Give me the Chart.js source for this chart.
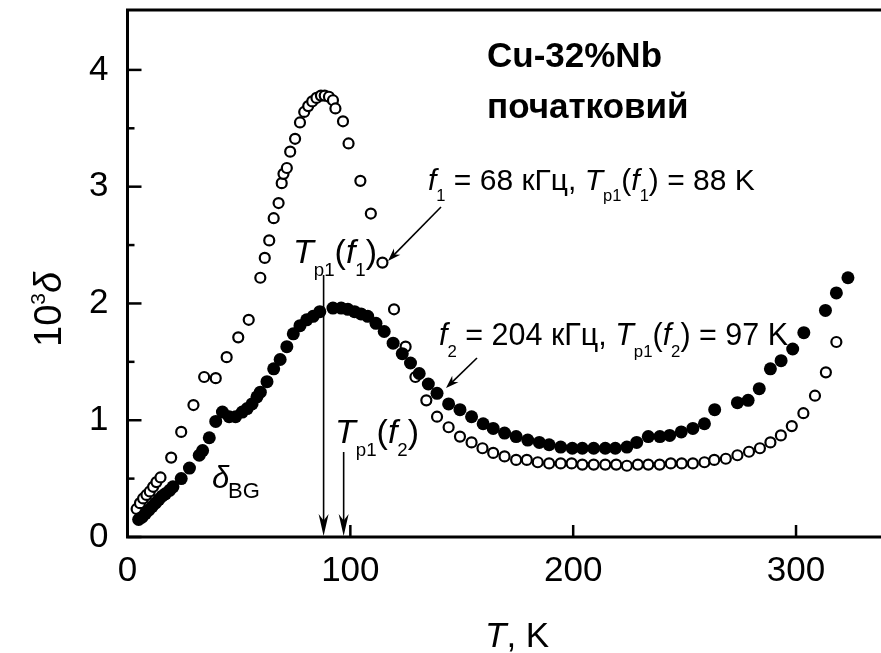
<!DOCTYPE html>
<html>
<head>
<meta charset="utf-8">
<script src="https://cdn.jsdelivr.net/npm/chart.js@4.4.1/dist/chart.umd.min.js"></script>
<style>
  html, body { margin: 0; padding: 0; background: #fff; }
  #wrap { width: 881px; height: 653px; }
</style>
</head>
<body>
<div id="wrap"><canvas id="chart" width="881" height="653"></canvas></div>
<script>
// f1 = 68 kHz (open circles)
const tempF1 = [4.1, 5.6, 7.0, 8.5, 10, 11.5, 13, 14.8, 19.6, 24.1, 29.6, 34.4, 39.6, 44.5, 49.7, 54.4, 59.6, 61.6, 63.6, 65.6,
  67.8, 69.2, 70.0, 71.5, 73, 75.2, 77.4, 79.3, 81.1, 82.9, 84.8, 86.8, 88.5, 90.4, 92.2, 93.3, 96.7, 99.2, 104.5, 109.2,
  114.4, 119.6, 124.8, 129.2, 134.1, 138.9, 144.1, 149.2, 154.4, 159.3, 164.1, 169.2, 174.4, 179.2, 184.1, 189.2, 194.4, 199.3, 204.1, 209.2,
  214.4, 219.3, 224.1, 229, 233.7, 238.8, 243.8, 248.7, 253.7, 258.9, 263.3, 268.5, 273.7, 278.9, 283.8, 288.5, 293.2, 298.1, 303.3, 308.5,
  313.4, 318.1];
const deltaF1 = [0.24, 0.29, 0.33, 0.36, 0.39, 0.43, 0.47, 0.51, 0.68, 0.90, 1.13, 1.37, 1.36, 1.54, 1.71, 1.86, 2.22, 2.39, 2.54, 2.73,
  2.86, 3.03, 3.11, 3.16, 3.30, 3.41, 3.55, 3.64, 3.69, 3.73, 3.76, 3.78, 3.78, 3.77, 3.74, 3.67, 3.56, 3.37, 3.05, 2.77,
  2.35, 1.95, 1.63, 1.37, 1.17, 1.03, 0.94, 0.86, 0.81, 0.76, 0.72, 0.69, 0.66, 0.66, 0.64, 0.63, 0.63, 0.63, 0.62, 0.62,
  0.62, 0.62, 0.61, 0.62, 0.62, 0.62, 0.63, 0.63, 0.63, 0.64, 0.66, 0.67, 0.70, 0.73, 0.76, 0.81, 0.87, 0.95, 1.06, 1.21,
  1.41, 1.67];

// f2 = 204 kHz (filled circles)
const tempF2 = [5, 6.5, 8, 9.5, 11, 12.5, 14, 15.5, 17, 18.9, 20.4, 24.1, 27.8, 32.2, 33.7, 36.7, 39.6, 42.6, 45.6, 48.5,
  51.5, 53.7, 55.9, 58.1, 59.6, 62.6, 65.6, 68.5, 71.5, 74.4, 77.4, 80.4, 83.3, 86.3, 92.2, 95.9, 98.9, 101.9, 104.8, 107.8,
  111.5, 115.2, 119.2, 123.3, 127, 130.9, 135, 138.9, 144.1, 149.2, 154.4, 159.6, 164.1, 169.2, 174.4, 179.6, 184.8, 189.2, 194.4, 199.6,
  204.1, 209.2, 214.4, 218.9, 224.1, 228.5, 233.7, 238.9, 243.3, 248.5, 253.7, 258.9, 263.5, 273.7, 278.5, 283.5, 288.5, 293.3, 298.5, 303.5,
  313.2, 318.1, 323.3];
const deltaF2 = [0.15, 0.17, 0.20, 0.23, 0.26, 0.29, 0.32, 0.35, 0.37, 0.40, 0.43, 0.50, 0.59, 0.70, 0.74, 0.85, 0.99, 1.07, 1.03, 1.03,
  1.07, 1.10, 1.14, 1.20, 1.24, 1.33, 1.44, 1.52, 1.63, 1.74, 1.81, 1.86, 1.89, 1.93, 1.96, 1.96, 1.95, 1.93, 1.91, 1.89,
  1.83, 1.76, 1.66, 1.57, 1.49, 1.40, 1.31, 1.23, 1.14, 1.09, 1.03, 0.97, 0.93, 0.89, 0.86, 0.83, 0.81, 0.79, 0.77, 0.76,
  0.76, 0.76, 0.76, 0.76, 0.77, 0.81, 0.86, 0.86, 0.87, 0.90, 0.93, 0.97, 1.09, 1.15, 1.17, 1.27, 1.44, 1.51, 1.61, 1.75,
  1.94, 2.09, 2.22];

const xTicks = [0, 100, 200, 300];
const yTicks = [0, 1, 2, 3, 4];
const yMinorTicks = [0.5, 1.5, 2.5, 3.5];
const peakT1 = 88;  // Tp1(f1)
const peakT2 = 97;  // Tp1(f2)

const FONT = '"Liberation Sans", Arial, sans-serif';

// draws a sequence of text runs (italic / sub / sup) along a baseline
function drawRuns(ctx, x, y, parts, size) {
  ctx.textAlign = 'left';
  ctx.textBaseline = 'alphabetic';
  parts.forEach(p => {
    const small = p.sub || p.sup;
    const s = small ? size * 0.55 : size;
    ctx.font = (p.i ? 'italic ' : '') + (p.b ? 'bold ' : '') + s + 'px ' + FONT;
    const dy = p.sub ? size * 0.38 : p.sup ? -size * 0.42 : 0;
    ctx.fillText(p.t, x, y + dy);
    x += ctx.measureText(p.t).width;
  });
  return x;
}

function arrow(ctx, x1, y1, x2, y2, len, half) {
  const a = Math.atan2(y2 - y1, x2 - x1);
  ctx.beginPath();
  ctx.moveTo(x1, y1);
  ctx.lineTo(x2 - Math.cos(a) * len * 0.6, y2 - Math.sin(a) * len * 0.6);
  ctx.stroke();
  ctx.beginPath();
  ctx.moveTo(x2, y2);
  ctx.lineTo(x2 - Math.cos(a) * len + Math.sin(a) * half, y2 - Math.sin(a) * len - Math.cos(a) * half);
  ctx.lineTo(x2 - Math.cos(a) * len * 0.7, y2 - Math.sin(a) * len * 0.7);
  ctx.lineTo(x2 - Math.cos(a) * len - Math.sin(a) * half, y2 - Math.sin(a) * len + Math.cos(a) * half);
  ctx.closePath();
  ctx.fill();
}

const frame = {
  id: 'frame',
  afterDraw(chart) {
    const ctx = chart.ctx;
    const { left, top, bottom } = chart.chartArea;
    const right = chart.width;
    const xs = chart.scales.x, ys = chart.scales.y;
    ctx.save();
    ctx.strokeStyle = '#000';
    ctx.fillStyle = '#000';
    ctx.lineWidth = 3;
    ctx.beginPath();
    ctx.moveTo(right, top); ctx.lineTo(left, top); ctx.lineTo(left, bottom); ctx.lineTo(right, bottom);
    ctx.stroke();

    // inward ticks
    ctx.lineWidth = 2.5;
    yTicks.forEach(v => {
      const py = ys.getPixelForValue(v);
      ctx.beginPath(); ctx.moveTo(left, py); ctx.lineTo(left + 14, py); ctx.stroke();
    });
    yMinorTicks.forEach(v => {
      const py = ys.getPixelForValue(v);
      ctx.beginPath(); ctx.moveTo(left, py); ctx.lineTo(left + 7, py); ctx.stroke();
    });
    xTicks.forEach(v => {
      if (v === 0) return;
      const px = xs.getPixelForValue(v);
      ctx.beginPath(); ctx.moveTo(px, bottom); ctx.lineTo(px, bottom - 12); ctx.stroke();
    });

    // axis titles
    drawRuns(ctx, 485, 647, [{ t: 'T', i: true }, { t: ', K' }], 35);
    ctx.save();
    ctx.translate(61, 347);
    ctx.rotate(-Math.PI / 2);
    drawRuns(ctx, 0, 0, [{ t: '10' }, { t: '3', sup: true }, { t: 'δ', i: true }], 38);
    ctx.restore();

    // sample name
    drawRuns(ctx, 487, 67, [{ t: 'Cu-32%Nb', b: true }], 35);
    drawRuns(ctx, 487, 118, [{ t: 'початковий', b: true }], 35);

    // frequency notes
    drawRuns(ctx, 428, 190, [{ t: 'f', i: true }, { t: '1', sub: true }, { t: ' = 68 кГц, ' }, { t: 'T', i: true },
      { t: 'p1', sub: true }, { t: '(' }, { t: 'f', i: true }, { t: '1', sub: true }, { t: ') = 88 K' }], 30);
    drawRuns(ctx, 439, 345, [{ t: 'f', i: true }, { t: '2', sub: true }, { t: ' = 204 кГц, ' }, { t: 'T', i: true },
      { t: 'p1', sub: true }, { t: '(' }, { t: 'f', i: true }, { t: '2', sub: true }, { t: ') = 97 K' }], 30.5);

    // peak labels
    drawRuns(ctx, 293, 263, [{ t: 'T', i: true }, { t: 'p1', sub: true }, { t: '(' }, { t: 'f', i: true },
      { t: '1', sub: true }, { t: ')' }], 34);
    drawRuns(ctx, 335, 443, [{ t: 'T', i: true }, { t: 'p1', sub: true }, { t: '(' }, { t: 'f', i: true },
      { t: '2', sub: true }, { t: ')' }], 34);
    drawRuns(ctx, 212, 488, [{ t: 'δ', i: true }], 31);
    ctx.font = '22px ' + FONT;
    ctx.fillText('BG', 228, 498);

    // arrows
    ctx.lineWidth = 1.6;
    const x1 = xs.getPixelForValue(peakT1), x2 = xs.getPixelForValue(peakT2);
    arrow(ctx, x1, 275, x1, bottom - 1, 22, 5);
    arrow(ctx, x2, 452, x2, bottom - 1, 22, 5);
    arrow(ctx, 441, 207, 388, 261, 13, 4.5);
    arrow(ctx, 477, 358, 446, 388, 13, 4.5);
    ctx.restore();
  }
};

new Chart(document.getElementById('chart'), {
  type: 'scatter',
  data: {
    datasets: [
      {
        label: 'f2 = 204 кГц',
        data: tempF2.map((t, i) => ({ x: t, y: deltaF2[i] })),
        backgroundColor: '#000',
        borderColor: '#000',
        borderWidth: 0,
        pointRadius: 6.5,
        pointHoverRadius: 6.5
      },
      {
        label: 'f1 = 68 кГц',
        data: tempF1.map((t, i) => ({ x: t, y: deltaF1[i] })),
        backgroundColor: '#fff',
        borderColor: '#000',
        borderWidth: 2.2,
        pointRadius: 5,
        pointHoverRadius: 5
      }
    ]
  },
  options: {
    responsive: false,
    animation: false,
    devicePixelRatio: 1,
    layout: { padding: { left: 0, top: 10, right: 0, bottom: 0 } },
    plugins: { legend: { display: false }, tooltip: { enabled: false } },
    scales: {
      x: {
        type: 'linear',
        min: 0,
        max: 334.9,
        afterFit: s => { s.height = 116; s.paddingLeft = 0; s.paddingRight = 0; },
        afterBuildTicks: s => { s.ticks = xTicks.map(v => ({ value: v })); },
        grid: { display: false, drawTicks: false },
        border: { display: false },
        ticks: { color: '#000', font: { family: FONT, size: 35 }, padding: 13, maxRotation: 0 }
      },
      y: {
        type: 'linear',
        min: 0,
        max: 4.513,
        afterFit: s => { s.width = 127.5; s.paddingTop = 0; s.paddingBottom = 0; },
        afterBuildTicks: s => { s.ticks = yTicks.map(v => ({ value: v })); },
        grid: { display: false, drawTicks: false },
        border: { display: false },
        ticks: { color: '#000', font: { family: FONT, size: 35 }, padding: 19 }
      }
    }
  },
  plugins: [frame]
});
</script>
</body>
</html>
